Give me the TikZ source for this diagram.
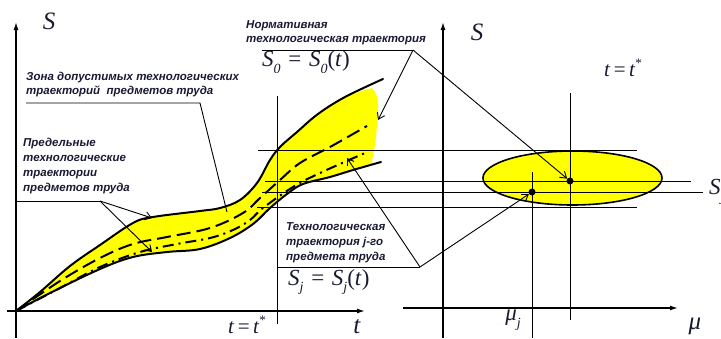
\documentclass[tikz,border=0pt]{standalone}
\usepackage{fontspec}
\setmainfont{Liberation Serif}
\newfontfamily\labfont{Liberation Sans}
\usetikzlibrary{arrows.meta,shapes.geometric}
\definecolor{ink}{RGB}{25,25,50}
\definecolor{zoneyellow}{RGB}{255,255,0}
\newcommand\myit[1]{\textit{#1}}
\newcommand\mysub[1]{\raisebox{-0.28em}{\fontsize{14}{14}\selectfont\textit{#1}}}
\newcommand\mysup[1]{\raisebox{0.45em}{\fontsize{13}{13}\selectfont #1}}
\begin{document}
\begin{tikzpicture}[x=1pt,y=-1pt,
  axis/.style={line width=1.4pt,-{Latex[length=8pt,width=5pt]}},
  bound/.style={line width=2pt,line cap=round},
  thinline/.style={line width=0.9pt},
  ptr/.style={line width=0.9pt,-{Straight Barb[length=6pt,width=8pt]}},
  normline/.style={line width=2pt,dash pattern=on 14pt off 6pt},
  jline/.style={line width=2pt,dash pattern=on 11pt off 5pt on 2pt off 5pt},
  lab/.style={font=\labfont\bfseries\itshape\fontsize{11.5}{13}\selectfont,text=ink,inner sep=0pt,anchor=base west},
  mlab/.style={font=\fontsize{23}{25}\selectfont,text=ink,inner sep=0pt},
  dot/.style={circle,fill=black,inner sep=0pt,minimum size=7pt}]
\useasboundingbox (0,0) rectangle (721,338);
\clip (0,0) rectangle (721,338);

% ---------- yellow zone ----------
\fill[zoneyellow] plot[smooth,tension=0.6] coordinates {(16,311) (40,292) (70,266) (100,245) (133,223) (153,217) (200,211) (220,208) (240,200) (257,183) (270,160) (280,147) (297,132) (318,114) (345,97) (372,88)}
  -- plot[smooth,tension=0.6] coordinates {(372,88) (378,100) (377,125) (375,145) (372,160)}
  -- plot[smooth,tension=0.6] coordinates {(372,164) (353,170) (330,177) (303,184) (287,194) (270,208) (253,224) (230,238) (200,249) (167,252) (133,257) (100,269) (50,293) (16,311)} -- cycle;

% ---------- boundaries ----------
\draw[bound] plot[smooth,tension=0.6] coordinates {(16,311) (40,292) (70,266) (100,245) (133,223) (153,217) (200,211) (220,208) (240,200) (257,183) (270,160) (280,147) (297,132) (318,114) (345,97) (383,79)};
\draw[bound] plot[smooth,tension=0.6] coordinates {(16,311) (50,293) (100,269) (133,257) (167,252) (200,249) (230,238) (253,224) (270,208) (287,194) (303,184) (330,177) (353,170) (381,162)};
\draw[normline] plot[smooth,tension=0.6] coordinates {(16,311) (60,281) (100,258) (133,244) (167,237) (210,228) (243,213) (260,198) (280,180) (300,163) (330,147) (367,126)};
\draw[jline] plot[smooth,tension=0.6] coordinates {(16,311) (60,288) (100,267) (140,252) (177,244) (210,238) (233,230) (250,220) (263,208) (293,187) (320,173) (365,153)};

% ---------- left axes ----------
\coordinate (lo1) at (16,338);
\coordinate (lS) at (16,22);
\coordinate (lo2) at (7,311);
\coordinate (lT) at (365,311);
\draw[axis] (lo1) -- (lS);
\draw[axis] (lo2) -- (lT);
\node[mlab,font=\fontsize{25}{27}\selectfont] (Sl) at (49,21) {\myit{S}};
\node[mlab,font=\fontsize{25}{27}\selectfont] (tl) at (357,327) {\myit{t}};
\coordinate (ts1) at (277,96);
\coordinate (ts2) at (277,324);
\draw[thinline] (ts1) -- (ts2);
\node[mlab,font=\fontsize{21}{23}\selectfont] (tsl) at (247,325) {\myit{t}\,=\,\myit{t}\mysup{*}};

% ---------- right axes ----------
\coordinate (ro1) at (443,338);
\coordinate (rS) at (443,22);
\coordinate (ro2) at (403,308);
\coordinate (rM) at (678,308);
\draw[axis] (ro1) -- (rS);
\draw[axis] (ro2) -- (rM);
\node[mlab,font=\fontsize{25}{27}\selectfont] (Sr) at (477,32) {\myit{S}};
\node[mlab,font=\fontsize{21}{23}\selectfont] (tsr) at (623,68) {\myit{t}\,=\,\myit{t}\mysup{*}};
\node[mlab,font=\fontsize{25}{27}\selectfont] (mu) at (695,326) {\myit{μ}};
\node[mlab] (muj) at (513,320) {\myit{μ}\mysub{j}};

% ellipse
\node[ellipse,draw=black,line width=1.6pt,fill=zoneyellow,inner sep=0pt,minimum width=179pt,minimum height=54pt] (ell) at (572.5,178) {};

% horizontal projection lines
\coordinate (h1a) at (258,150); \coordinate (h1b) at (637,150);
\coordinate (h2a) at (265,181); \coordinate (h2b) at (691,181);
\coordinate (h3a) at (262,192); \coordinate (h3b) at (703,192);
\coordinate (h4a) at (257,207); \coordinate (h4b) at (637,207);
\draw[thinline] (h1a) -- (h1b);
\draw[thinline] (h2a) -- (h2b);
\draw[thinline] (h3a) -- (h3b);
\draw[thinline] (h4a) -- (h4b);
\node[mlab,anchor=west] (Sj) at (709,192) {\myit{S}\mysub{j}};

% vertical lines
\coordinate (v0a) at (570,93); \coordinate (v0b) at (570,320);
\coordinate (vja) at (532,172); \coordinate (vjb) at (532,338);
\draw[thinline] (v0a) -- (v0b);
\draw[thinline] (vja) -- (vjb);
\node[dot] (d0) at (570,181) {};
\node[dot] (dj) at (532,192) {};

% ---------- labels ----------
\node[lab] (n1) at (246,28) {Нормативная};
\node[lab] (n2) at (246,42) {технологическая траектория};
\node[mlab,anchor=west] (s0eq) at (262,62) {\myit{S}\mysub{0}\,\,=\,\,\myit{S}\mysub{0}(\myit{t})};
\coordinate (nA) at (262,50);
\coordinate (nJ) at (413,50);
\coordinate (nT) at (378,120);
\draw[thinline] (nA) -- (nJ);
\draw[ptr] (nJ) -- (nT);
\draw[ptr] (nJ) -- (d0);

\node[lab] (z1) at (26,80) {Зона допустимых технологических};
\node[lab] (z2) at (26,94) {траекторий\ \ предметов труда};
\coordinate (zA) at (26,103);
\coordinate (zJ) at (200,103);
\coordinate (zT) at (227,212);
\draw[thinline] (zA) -- (zJ) -- (zT);

\node[lab] (p1) at (23,146) {Предельные};
\node[lab] (p2) at (23,161) {технологические};
\node[lab] (p3) at (23,176) {траектории};
\node[lab] (p4) at (23,191) {предметов труда};
\coordinate (pA) at (16,201);
\coordinate (pJ) at (100,201);
\coordinate (pT1) at (152,218);
\coordinate (pT2) at (152,252);
\draw[thinline] (pA) -- (pJ);
\draw[ptr] (pJ) -- (pT1);
\draw[ptr] (pJ) -- (pT2);

\node[lab] (j1) at (286,230) {Технологическая};
\node[lab] (j2) at (286,245) {траектория j-го};
\node[lab] (j3) at (286,260) {предмета труда};
\node[mlab,anchor=west] (sjeq) at (288,282) {\myit{S}\mysub{j}\,\,=\,\,\myit{S}\mysub{j}(\myit{t})};
\coordinate (jA) at (278,267);
\coordinate (jJ) at (420,267);
\coordinate (jT) at (347,158);
\draw[thinline] (jA) -- (jJ);
\draw[ptr] (jJ) -- (jT);
\draw[ptr] (jJ) -- (dj);
\end{tikzpicture}
\end{document}
